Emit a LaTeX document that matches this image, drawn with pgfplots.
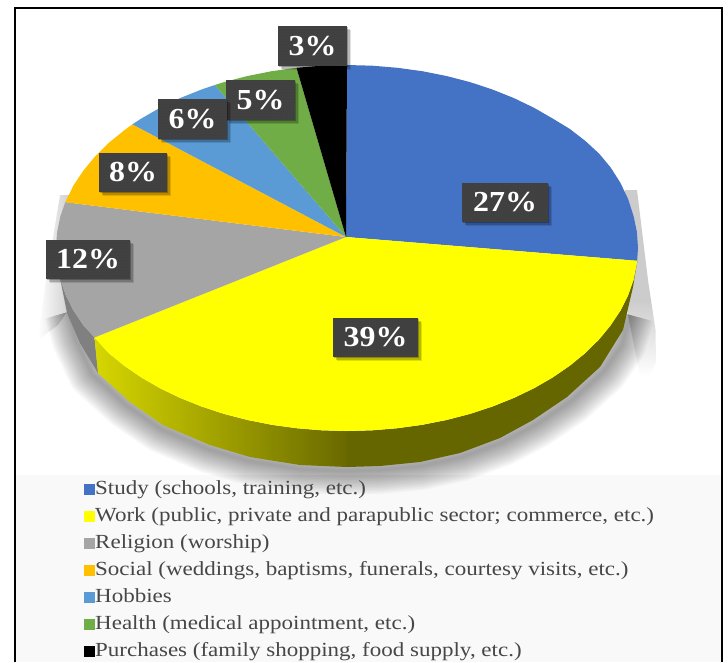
\documentclass[border=0pt]{standalone}
\usepackage{fontspec}
\setmainfont[FakeStretch=1.15]{Liberation Serif}
\newfontfamily\labfont[FakeStretch=1.1]{Liberation Serif Bold}
\usepackage{pgfplots}
\pgfplotsset{compat=1.18}
\usetikzlibrary{shadows,patterns}
\definecolor{cStudy}{HTML}{4472C4}
\definecolor{cWork}{HTML}{FFFF00}
\definecolor{cReligion}{HTML}{A5A5A5}
\definecolor{cSocial}{HTML}{FFC000}
\definecolor{cHobbies}{HTML}{5B9BD5}
\definecolor{cHealth}{HTML}{70AD47}
\definecolor{cBox}{HTML}{404040}
\definecolor{cDot}{HTML}{4C4C4C}
\tikzset{
  pct/.style={rectangle,inner sep=0pt,text=white,font=\labfont\fontsize{29}{29}\selectfont,
    fill=cBox,align=center,
    drop shadow={shadow xshift=4pt,shadow yshift=-4pt,opacity=.12,fill=black},
    drop shadow={shadow xshift=2.5pt,shadow yshift=-2.5pt,opacity=.18,fill=black},
    drop shadow={shadow xshift=1pt,shadow yshift=-1pt,opacity=.25,fill=black},
    postaction={pattern=dots,pattern color=cDot}},
}
\begin{document}
\begin{tikzpicture}
\useasboundingbox (0,0) rectangle (728pt,662pt);
\begin{axis}[
  width=728pt,height=662pt,scale only axis,
  xmin=0,xmax=728,ymin=0,ymax=662,y dir=reverse,
  axis lines=none,
  legend cell align=left,
  legend style={at={(axis cs:84,480)},anchor=north west,draw=none,fill=none,
    font=\fontsize{20}{20}\selectfont,text=black!72,row sep=0pt,inner sep=0pt,
    nodes={inner sep=0pt,text height=14pt,text depth=13pt,anchor=base west}},
  legend image code/.code={\fill[#1] (0pt,-1pt) rectangle (11pt,10pt);},
  /tikz/every even column/.append style={column sep=5pt},
]
% legend band
\addplot[fill=black!2.5,draw=none,forget plot] coordinates {(15,475)(722,475)(722,662)(15,662)} --cycle;

% soft cast shadow on the wall behind the disc
\addplot[left color=white,right color=black!22,draw=none,forget plot] coordinates {(60,195)(46,280)(38,340)(58,325)(75,300)(75,195)} --cycle;
\addplot[fill=black!20,draw=none,forget plot] coordinates {(637,190)(648,280)(651,300)(625,300)(625,190)} --cycle;
\addplot[top color=black!20,bottom color=white,draw=none,forget plot] coordinates {(651,300)(655.5,330)(656,362)(650,376)(640,376)(625,300)} --cycle;
\pgfplotsinvokeforeach{3,6,9,12,15,18,21,24,27,30,33,36,39,42,45,48}{
  \addplot[draw=black,draw opacity=.027,line width=#1pt,line join=round,forget plot,fill=none]
    coordinates {(68,312)(76,340)(92,374)(126,405)(161,429)(208,449)(249,461)(300,469)(347,471)
      (380,470)(421,466)(462,457)(503,442)(537,424)(571,401)(604,371)(622,345)(630,315)};
}

% side wall of the disc
\addplot[fill=black!50,draw=none,forget plot] coordinates
  {(60.4,279.8)(65.9,295.4)(73.5,310.6)(83.3,325.3)(94.5,337.5)(98,373)(80,343)(67,313)} --cycle;
\addplot[left color=cWork!84!black,right color=cWork!41!black,draw=none,forget plot] coordinates
  {(94.5,337.5)(108.6,353)(124.1,365.6)(141.2,377.4)(159.9,388.2)(180.1,397.9)(201.5,406.5)(224,413.9)
   (247.5,420)(271.7,424.8)(296.5,428.2)(321.6,430.3)(347,431)
   (347,467)(300,465)(250,457)(210,445)(163,425)(130,402)(98,373)} --cycle;
\addplot[fill=cWork!40!black,draw=none,forget plot] coordinates
  {(347,431)(372.4,430.3)(397.5,428.2)(422.3,424.8)(446.5,420)(470,413.9)(492.5,406.5)(513.9,397.9)
   (534.1,388.2)(552.8,377.4)(569.9,365.6)(585.4,353)(599,339.5)(610.7,325.3)(620.5,310.6)(628.1,295.4)
   (633.6,279.8)(637.3,260.8)
   (633,287)(623,330)(600,367)(567,397)(533,420)(500,438)(460,453)(420,462)(380,466)(347,467)} --cycle;

% top face, one wedge per category
\addplot[fill=cStudy,draw=none] coordinates
  {(346,237)(637.3,260.8)(636.9,264)(638,248)(636.9,232)(633.6,216.2)(628.1,199)(620.5,183)(610.7,167.5)
   (599,153.5)(585.4,141)(569.9,129)(552.8,118.6)(534.1,107.8)(513.9,98.1)(492.5,89.5)(470,82.1)
   (446.5,76)(422.3,71.2)(397.5,67.8)(372.4,65.7)(347,65)} --cycle;
\addlegendentry{Study (schools, training, etc.)}
\addplot[fill=cWork,draw=none] coordinates
  {(346,237)(94.5,337.5)(108.6,353)(124.1,365.6)(141.2,377.4)(159.9,388.2)(180.1,397.9)(201.5,406.5)(224,413.9)
   (247.5,420)(271.7,424.8)(296.5,428.2)(321.6,430.3)(347,431)(372.4,430.3)(397.5,428.2)(422.3,424.8)
   (446.5,420)(470,413.9)(492.5,406.5)(513.9,397.9)(534.1,388.2)(552.8,377.4)(569.9,365.6)(585.4,353)
   (599,339.5)(610.7,325.3)(620.5,310.6)(628.1,295.4)(633.6,279.8)(637.3,260.8)} --cycle;
\addlegendentry{Work (public, private and parapublic sector; commerce, etc.)}
\addplot[fill=cReligion,draw=none] coordinates
  {(346,237)(65.3,202.2)(60.4,216.2)(57.1,232)(56,248)(57.1,264)(60.4,279.8)(65.9,295.4)(73.5,310.6)(83.3,325.3)(94.5,337.5)} --cycle;
\addlegendentry{Religion (worship)}
\addplot[fill=cSocial,draw=none] coordinates
  {(346,237)(132.4,124.3)(124.1,130.4)(108.6,143)(95,156.5)(83.3,170.7)(73.5,185.4)(65.3,202.2)} --cycle;
\addlegendentry{Social (weddings, baptisms, funerals, courtesy visits, etc.)}
\addplot[fill=cHobbies,draw=none] coordinates
  {(346,237)(214.9,85)(201.5,89.5)(180.1,98.1)(159.9,107.8)(141.2,118.6)(132.4,124.3)} --cycle;
\addlegendentry{Hobbies}
\addplot[fill=cHealth,draw=none] coordinates
  {(346,237)(296.5,67.8)(271.7,71.2)(247.5,76)(224,82.1)(214.9,85)} --cycle;
\addlegendentry{Health (medical appointment, etc.)}
\addplot[fill=black,draw=none] coordinates
  {(346,237)(347,65)(321.6,65.7)(296.5,67.8)} --cycle;
\addlegendentry{Purchases (family shopping, food supply, etc.)}

% frame
\draw[black,line width=2.2pt] (axis cs:14.7,662) -- (axis cs:14.7,8) -- (axis cs:722,8) -- (axis cs:722,662);

% percentage labels
\node[pct,minimum width=69pt,minimum height=40pt] at (axis cs:312.5,46) {3\%};
\node[pct,minimum width=69pt,minimum height=40pt] at (axis cs:260.5,100) {5\%};
\node[pct,minimum width=69pt,minimum height=40pt] at (axis cs:192.5,119) {6\%};
\node[pct,minimum width=68pt,minimum height=39pt] at (axis cs:133,172.5) {8\%};
\node[pct,minimum width=86pt,minimum height=39pt] at (axis cs:505,202.5) {27\%};
\node[pct,minimum width=84pt,minimum height=39pt] at (axis cs:88,259.5) {12\%};
\node[pct,minimum width=85pt,minimum height=39pt] at (axis cs:375.5,337.5) {39\%};
\end{axis}
\end{tikzpicture}
\end{document}
